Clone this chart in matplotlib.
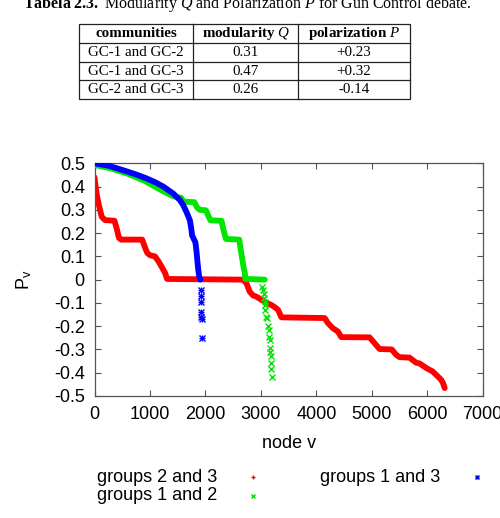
import matplotlib
matplotlib.use('agg')
import matplotlib.pyplot as plt
from matplotlib.patches import Rectangle

plt.rcParams['font.family'] = ['Liberation Sans', 'DejaVu Sans']
plt.rcParams['axes.unicode_minus'] = False
plt.rcParams['mathtext.fontset'] = 'custom'
plt.rcParams['mathtext.rm'] = 'Liberation Serif'
plt.rcParams['mathtext.it'] = 'Liberation Serif:italic'
plt.rcParams['mathtext.bf'] = 'Liberation Serif:bold'
plt.rcParams['mathtext.sf'] = 'Liberation Sans'

# table data
communities = ['GC-1 and GC-2', 'GC-1 and GC-3', 'GC-2 and GC-3']
modularity = ['0.31', '0.47', '0.26']
polarization = ['+0.23', '+0.32', '-0.14']
headers = ['communities', 'modularity $Q$', 'polarization $P$']

# P_v per node (sorted)
red_x = [0, 20, 45, 80, 130, 190, 360, 400, 440, 480, 860, 900, 950, 1000, 1090,
         1150, 1200, 1270, 1310, 2680, 2740, 2800, 2860, 2920, 3010, 3100, 3190,
         3260, 3310, 3370, 4150, 4210, 4300, 4390, 4450, 4960, 5050, 5140, 5360,
         5440, 5500, 5680, 5800, 5860, 5985, 6100, 6190, 6250, 6285, 6315]
red_y = [0.44, 0.40, 0.36, 0.32, 0.27, 0.256, 0.253, 0.22, 0.18, 0.172, 0.172,
         0.145, 0.115, 0.105, 0.10, 0.08, 0.06, 0.03, 0.003, 0.0, -0.016, -0.052,
         -0.068, -0.073, -0.087, -0.099, -0.109, -0.12, -0.13, -0.162, -0.165,
         -0.187, -0.209, -0.223, -0.247, -0.248, -0.273, -0.298, -0.30, -0.323,
         -0.333, -0.335, -0.357, -0.36, -0.38, -0.395, -0.416, -0.43, -0.445, -0.466]

green_x = [0, 300, 600, 900, 1200, 1420, 1560, 1610, 1800, 1850, 1900, 2010, 2060,
           2090, 2290, 2330, 2370, 2610, 2630, 2650, 2670, 2690, 2710, 2720, 3070]
green_y = [0.493, 0.478, 0.455, 0.425, 0.385, 0.358, 0.352, 0.335, 0.333, 0.31,
           0.30, 0.298, 0.27, 0.255, 0.253, 0.21, 0.175, 0.172, 0.14, 0.11, 0.08,
           0.05, 0.03, 0.003, 0.0]
green_tail_x = [3020, 3040, 3050, 3060, 3070, 3075, 3080, 3100, 3110, 3130, 3140,
                3150, 3160, 3165, 3170, 3180, 3185, 3190, 3195]
green_tail_y = [-0.03, -0.045, -0.06, -0.08, -0.095, -0.11, -0.13, -0.16, -0.165,
                -0.20, -0.215, -0.245, -0.26, -0.295, -0.31, -0.33, -0.36, -0.385, -0.42]

blue_x = [0, 250, 520, 750, 940, 1100, 1240, 1330, 1420, 1540, 1600, 1660, 1720,
          1745, 1760, 1790, 1820, 1840, 1855, 1870, 1890, 1910]
blue_y = [0.50, 0.49, 0.47, 0.452, 0.435, 0.418, 0.40, 0.385, 0.37, 0.342, 0.32,
          0.29, 0.255, 0.22, 0.19, 0.175, 0.16, 0.12, 0.08, 0.045, 0.01, 0.0]
blue_tail_x = [1920, 1920, 1920, 1925, 1925, 1930, 1935]
blue_tail_y = [-0.045, -0.07, -0.097, -0.14, -0.16, -0.168, -0.25]

x_ticks = [0, 1000, 2000, 3000, 4000, 5000, 6000, 7000]
y_ticks = [-0.5, -0.4, -0.3, -0.2, -0.1, 0, 0.1, 0.2, 0.3, 0.4, 0.5]
y_tick_labels = ['-0.5', '-0.4', '-0.3', '-0.2', '-0.1', '0',
                 '0.1', '0.2', '0.3', '0.4', '0.5']

labels = ['groups 2 and 3', 'groups 1 and 2', 'groups 1 and 3']
RED, GREEN, BLUE = '#ff0000', '#00e600', '#0000ff'

W, H = 500, 518
fig = plt.figure(figsize=(W / 100, H / 100), dpi=100)

# page overlay in pixel coords: caption + table + key
page = fig.add_axes([0, 0, 1, 1])
page.set_xlim(0, W)
page.set_ylim(H, 0)
page.axis('off')

page.text(247, 8.5, r'$\mathbf{Tabela\ 2.3.}$ Modularity $Q$ and Polarization $P$ for Gun Control debate.',
          ha='center', va='baseline', fontsize=11.5, family='Liberation Serif')

col_edges = [79, 193, 298, 410]
row_edges = [24, 42.7, 61.5, 80, 98.7]
page.add_patch(Rectangle((col_edges[0], row_edges[0]), col_edges[-1] - col_edges[0],
                         row_edges[-1] - row_edges[0], fill=False, lw=0.9, ec='#222222'))
for cx in col_edges[1:-1]:
    page.plot([cx, cx], [row_edges[0], row_edges[-1]], color='#222222', lw=0.9)
for ry in row_edges[1:-1]:
    page.plot([col_edges[0], col_edges[-1]], [ry, ry], color='#222222', lw=0.9)

rows = [headers] + [list(r) for r in zip(communities, modularity, polarization)]
for i, row in enumerate(rows):
    yc = (row_edges[i] + row_edges[i + 1]) / 2 + 0.5
    for j, txt in enumerate(row):
        xc = (col_edges[j] + col_edges[j + 1]) / 2
        if i == 0:
            page.text(xc, yc, txt, ha='center', va='center', fontsize=10.8,
                      family='Liberation Serif', fontweight='bold')
        else:
            page.text(xc, yc, txt, ha='center', va='center', fontsize=10.8,
                      family='Liberation Serif')

# chart
ax = fig.add_axes([94.5 / W, 1 - 396 / H, 388.2 / W, 232.7 / H])
ax.plot(red_x, red_y, color=RED, lw=4.2, solid_capstyle='round', zorder=2)
ax.plot(green_x, green_y, color=GREEN, lw=4.2, solid_capstyle='round', zorder=3)
ax.plot(green_tail_x, green_tail_y, ls='none', marker='x', ms=4.5, mew=1,
        color=GREEN, zorder=3)
ax.plot(blue_x, blue_y, color=BLUE, lw=4.2, solid_capstyle='round', zorder=4)
for m in ['+', 'x']:
    ax.plot(blue_tail_x, blue_tail_y, ls='none', marker=m, ms=4, mew=1,
            color=BLUE, zorder=4)

ax.set_xlim(0, 7000)
ax.set_ylim(-0.5, 0.5)
ax.set_xticks(x_ticks, [str(t) for t in x_ticks])
ax.set_yticks(y_ticks, y_tick_labels)
ax.tick_params(direction='in', top=True, right=True, length=4, width=0.8,
               color='#555555', labelsize=13, pad=7)
for s in ax.spines.values():
    s.set_color('#555555')
    s.set_linewidth(0.9)
ax.set_xlabel('node v', fontsize=13, labelpad=9)
ax.set_ylabel(r'$\mathsf{P}_\mathsf{v}$', fontsize=13, labelpad=14)

# key below the chart
key_pos = [(97, 477), (97, 496), (320, 477)]
key_marker_x = [253, 253, 477]
key_markers = [['+'], ['x'], ['+', 'x']]
key_colors = [RED, GREEN, BLUE]
for lab, (kx, ky), mx, ms_, c in zip(labels, key_pos, key_marker_x, key_markers, key_colors):
    page.text(kx, ky, lab, ha='left', va='center', fontsize=13)
    for m in ms_:
        page.plot([mx], [ky], ls='none', marker=m, ms=3.5, mew=1, color=c)

fig.savefig('out.png', dpi=100)
